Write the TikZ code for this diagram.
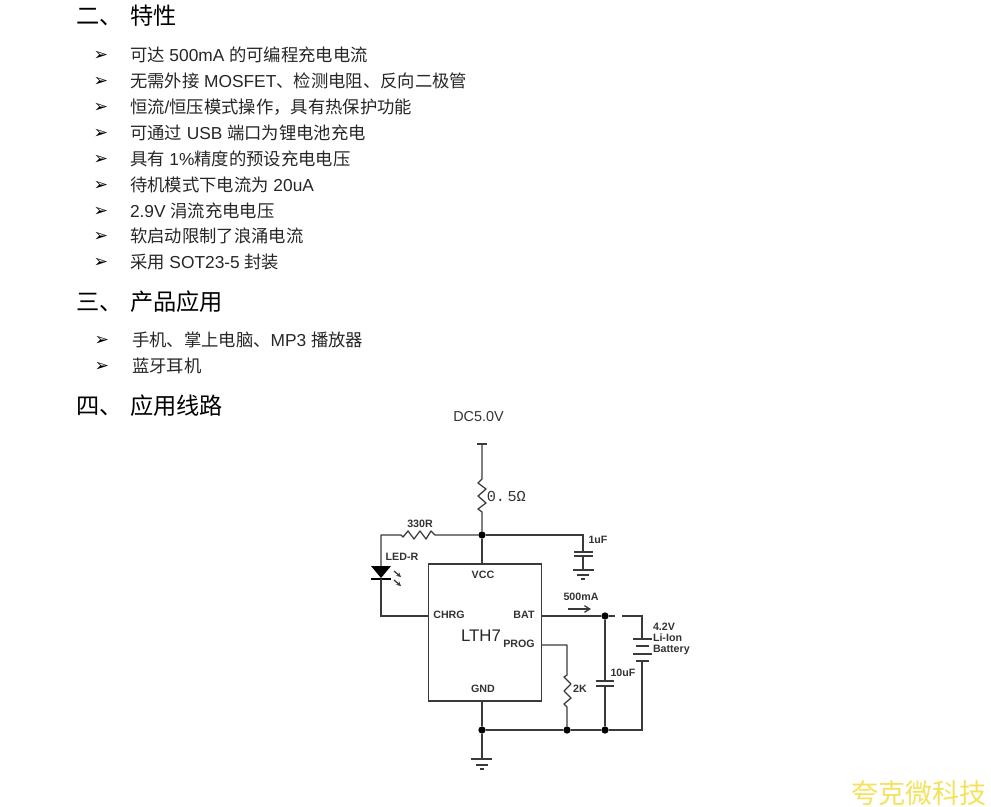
\documentclass[tikz,border=0pt]{standalone}
\usepackage{fontspec}
\setmainfont{Liberation Sans}
\newfontfamily\cjk{Noto Sans CJK SC}
\newfontfamily\dvs{DejaVu Sans}
\newfontfamily\lmono{Liberation Mono}
\usetikzlibrary{arrows.meta}
\definecolor{wire}{HTML}{3A3A3A}
\definecolor{lab}{HTML}{333333}
\newcommand{\C}[1]{{\cjk #1}}
\tikzset{
  x=0.75pt,y=-0.75pt,
  body/.style={anchor=base west,inner sep=0,outer sep=0,font=\fontsize{13pt}{15pt}\selectfont,text=black!85},
  head/.style={anchor=base west,inner sep=0,outer sep=0,font=\fontsize{17.4pt}{20pt}\selectfont\cjk,text=black},
  bul/.style={anchor=center,inner sep=0,outer sep=0,font=\fontsize{13pt}{15pt}\selectfont\dvs},
  lbl/.style={inner sep=0,outer sep=0,font=\fontsize{8pt}{9pt}\selectfont\bfseries,text=lab},
  lbll/.style={lbl,anchor=west},
  wr/.style={draw=wire,line width=0.95pt},
  thick wr/.style={draw=wire,line width=1.7pt},
  dot/.style={circle,fill=black,inner sep=0,minimum size=5.5pt,outer sep=0},
  chip/.style={rectangle,draw=wire,line width=0.95pt,inner sep=0,minimum width=84.75pt,minimum height=102.75pt},
}
\begin{document}
\begin{tikzpicture}
\useasboundingbox (0,0) rectangle (991,806);
% headings
\node[head] (h2a) at (76,24.6) {二、};
\node[head] (h2b) at (130,24.6) {特性};
\node[head] (h3a) at (76,310.6) {三、};
\node[head] (h3b) at (130,310.6) {产品应用};
\node[head] (h4a) at (76,414.6) {四、};
\node[head] (h4b) at (130,414.6) {应用线路};
% feature list
\node[bul] (b1) at (101,56) {➢};
\node[body] (f1) at (130,61.5) {\C{可达} 500mA \C{的可编程充电电流}};
\node[bul] (b2) at (101,82) {➢};
\node[body] (f2) at (130,87.5) {\C{无需外接} MOSFET\C{、检测电阻、反向二极管}};
\node[bul] (b3) at (101,108) {➢};
\node[body] (f3) at (130,113.5) {\C{恒流}/\C{恒压模式操作，具有热保护功能}};
\node[bul] (b4) at (101,134) {➢};
\node[body] (f4) at (130,139.5) {\C{可通过} USB \C{端口为锂电池充电}};
\node[bul] (b5) at (101,160) {➢};
\node[body] (f5) at (130,165.5) {\C{具有} 1\%\C{精度的预设充电电压}};
\node[bul] (b6) at (101,186) {➢};
\node[body] (f6) at (130,191.5) {\C{待机模式下电流为} 20uA};
\node[bul] (b7) at (101,212) {➢};
\node[body] (f7) at (130,217.5) {2.9V \C{涓流充电电压}};
\node[bul] (b8) at (101,237) {➢};
\node[body] (f8) at (130,242.5) {\C{软启动限制了浪涌电流}};
\node[bul] (b9) at (101,263) {➢};
\node[body] (f9) at (130,268.5) {\C{采用} SOT23-5 \C{封装}};
\node[bul] (b10) at (102,341) {➢};
\node[body] (a1) at (132,346.5) {\C{手机、掌上电脑、}MP3 \C{播放器}};
\node[bul] (b11) at (102,367) {➢};
\node[body] (a2) at (132,372.5) {\C{蓝牙耳机}};
% IC
\node[chip] (ic) at (485,632.5) {};
\coordinate (vccpin) at (482,564);
\coordinate (chrgpin) at (429,616);
\coordinate (batpin) at (541,616);
\coordinate (progpin) at (541,645);
\coordinate (gndpin) at (482,701);
% junctions
\node[dot] (j1) at (482,535) {};
\node[dot] (j2) at (605,616) {};
\node[dot] (j3) at (482,730) {};
\node[dot] (j4) at (567,730) {};
\node[dot] (j5) at (605,730) {};
% supply and 0.5 ohm
\coordinate (vtop) at (482,444);
\draw[wr] (477,444) -- (487,444);
\draw[wr,line join=round] (vtop) -- (482,479) -- (478,483) -- (486,489) -- (478,496) -- (486,503) -- (478,509) -- (482,512) -- (j1);
\draw[wr] (j1) -- (vccpin);
% 330R
\draw[wr,line join=round] (j1) -- (435,535) -- (431,531) -- (426,539) -- (420,531) -- (414,539) -- (408,531) -- (403,537) -- (401,535) -- (381,535) -- (381,566);
% LED
\fill[black] (371,566) -- (391,566) -- (381,578) -- cycle;
\draw[thick wr,draw=black] (371,579) -- (391,579);
\draw[wr] (381,579) -- (381,616) -- (chrgpin);
\draw[wr,-{Stealth[length=3.5pt,width=3.5pt]}] (394,571) -- (401,577);
\draw[wr,-{Stealth[length=3.5pt,width=3.5pt]}] (394,580) -- (401,586);
% 1uF and ground
\coordinate (c1t) at (583,552);
\coordinate (c1b) at (583,556);
\coordinate (g1) at (583,570);
\draw[wr] (j1) -- (583,535) -- (c1t);
\draw[wr] (574,552) -- (593,552);
\draw[wr] (574,556) -- (593,556);
\draw[wr] (c1b) -- (g1);
\draw[wr] (573,570) -- (594,570) (577,575) -- (589,575) (581,579) -- (585,579);
% BAT wire and battery
\coordinate (gapa) at (615,616);
\coordinate (gapb) at (622,616);
\coordinate (bat1) at (642,639);
\coordinate (bat4) at (642,661);
\draw[wr] (batpin) -- (j2) -- (gapa);
\draw[wr] (gapb) -- (642,616) -- (bat1);
\draw[wr] (633,639) -- (652,639);
\draw[thick wr] (636,646) -- (649,646);
\draw[wr] (633,654) -- (652,654);
\draw[thick wr] (636,661) -- (649,661);
\draw[wr] (bat4) -- (642,730) -- (j5);
% 10uF
\coordinate (c2t) at (605,681);
\coordinate (c2b) at (605,686);
\draw[wr] (j2) -- (c2t);
\draw[wr] (596,681) -- (614,681);
\draw[wr] (596,686) -- (614,686);
\draw[wr] (c2b) -- (j5);
% PROG + 2K
\draw[wr,line join=round] (progpin) -- (567,645) -- (567,675) -- (564,677) -- (571,684) -- (564,691) -- (571,698) -- (564,704) -- (567,707) -- (j4);
% bottom rail and ground
\coordinate (g2) at (482,759);
\draw[wr] (gndpin) -- (j3) -- (g2);
\draw[wr] (j3) -- (j4) -- (j5);
\draw[wr] (471,759) -- (492,759) (476,765) -- (488,765) (480,769) -- (484,769);
% current arrow
\coordinate (ia) at (568,609);
\coordinate (ib) at (591,609);
\draw[wr,-{Straight Barb[length=4pt,width=5pt]}] (ia) -- (ib);
% labels
\node[inner sep=0,font=\fontsize{10.8pt}{13pt}\selectfont,text=lab] (dc) at (478.5,417) {DC5.0V};
\node[inner sep=0,anchor=west,font=\fontsize{11.4pt}{13pt}\selectfont\lmono,text=lab] (r05) at (486.5,496) {0.\,5Ω};
\node[lbl] (l330) at (420,524) {330R};
\node[lbl] (lled) at (402,557) {LED-R};
\node[lbl] (lvcc) at (483,575) {VCC};
\node[lbl] (lchrg) at (449,615) {CHRG};
\node[lbl] (lbat) at (524,615) {BAT};
\node[inner sep=0,font=\fontsize{12.6pt}{14pt}\selectfont,text=black!85] (lth) at (481,636) {LTH7};
\node[lbl] (lprog) at (519,644) {PROG};
\node[lbl] (lgnd) at (483,689) {GND};
\node[lbl] (l500) at (581,597) {500mA};
\node[lbl] (l1u) at (598,540) {1uF};
\node[lbl] (l10u) at (623,673) {10uF};
\node[lbl] (l2k) at (580,689) {2K};
\node[lbll] (lv42) at (653,627) {4.2V};
\node[lbll] (lli) at (653,638) {Li-Ion};
\node[lbll] (lbt) at (653,650) {Battery};
% watermark
\node[anchor=base west,inner sep=0,font=\fontsize{20.3pt}{24pt}\selectfont\cjk,text={rgb,255:red,244;green,226;blue,90}] (wm) at (851,803) {夸克微科技};
\end{tikzpicture}
\end{document}
